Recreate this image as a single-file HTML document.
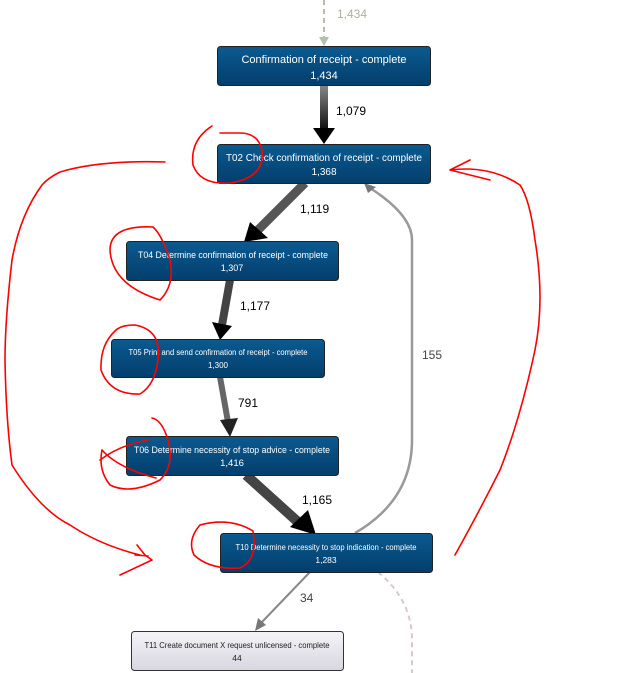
<!DOCTYPE html>
<html><head><meta charset="utf-8"><style>
html,body{margin:0;padding:0;background:#fff;}
svg{display:block;}
text{font-family:"Liberation Sans",sans-serif;}
</style></head><body>
<svg width="630" height="673" viewBox="0 0 630 673" xmlns="http://www.w3.org/2000/svg">
<defs>
<linearGradient id="nb" x1="0" y1="0" x2="0" y2="1"><stop offset="0" stop-color="#0b5a90"/><stop offset="1" stop-color="#033e6c"/></linearGradient>
<linearGradient id="nw" x1="0" y1="0" x2="0" y2="1"><stop offset="0" stop-color="#f4f4f8"/><stop offset="1" stop-color="#d8d6e0"/></linearGradient>
<linearGradient id="ev" x1="0" y1="0" x2="0" y2="1"><stop offset="0" stop-color="#888"/><stop offset="1" stop-color="#111"/></linearGradient>
</defs>
<line x1="324" y1="0" x2="324" y2="38" stroke="#b5c0a8" stroke-width="2" stroke-dasharray="5,4"/>
<polygon points="319,37 329,37 324,46" fill="#b5c0a8"/>
<text x="337" y="18" font-size="12" fill="#a9b39c">1,434</text>
<rect x="320" y="85" width="8" height="44" fill="url(#ev)"/>
<polygon points="313,128 335,128 324,144" fill="#000"/>
<text x="336" y="115" font-size="12">1,079</text>
<line x1="305" y1="183" x2="258" y2="230" stroke="#555" stroke-width="9"/>
<polygon points="244,242 250,222 268,238" fill="#000"/>
<text x="300" y="213" font-size="12">1,119</text>
<line x1="230" y1="280" x2="222" y2="325" stroke="#444" stroke-width="8"/>
<polygon points="212,322 232,326 220,340" fill="#000"/>
<text x="240" y="310" font-size="12">1,177</text>
<line x1="220" y1="377" x2="228" y2="422" stroke="#666" stroke-width="6"/>
<polygon points="220,420 238,418 230,437" fill="#222"/>
<text x="238" y="407" font-size="12">791</text>
<line x1="246" y1="475" x2="298" y2="522" stroke="#444" stroke-width="10"/>
<polygon points="290,527 308,510 316,535" fill="#000"/>
<text x="302" y="504" font-size="12">1,165</text>
<path d="M355,533 Q412,500 412,440 L412,240 Q412,215 370,188" fill="none" stroke="#999" stroke-width="2.5"/>
<polygon points="364,183 376,187 368,193" fill="#777"/>
<text x="422" y="359" font-size="12" fill="#444">155</text>
<line x1="310" y1="572" x2="262" y2="622" stroke="#888" stroke-width="2"/>
<polygon points="255,631 258,618 266,625" fill="#777"/>
<text x="300" y="602" font-size="12" fill="#444">34</text>
<path d="M378,572 Q412,600 412,640 L412,673" fill="none" stroke="#d8c8c8" stroke-width="2" stroke-dasharray="5,4"/>
<g font-size="11" fill="#fff" text-anchor="middle">
<rect x="217.5" y="46.5" width="213" height="39" rx="3" fill="url(#nb)" stroke="#222"/>
<text x="324" y="63">Confirmation of receipt - complete</text><text x="324" y="79">1,434</text>
<rect x="217.5" y="144.5" width="213" height="39" rx="3" fill="url(#nb)" stroke="#222"/>
<text x="324" y="161" font-size="10" textLength="196" lengthAdjust="spacingAndGlyphs">T02 Check confirmation of receipt - complete</text><text x="324" y="175" font-size="10">1,368</text>
<rect x="126.5" y="241.5" width="212" height="39" rx="3" fill="url(#nb)" stroke="#222"/>
<text x="233" y="258" font-size="9" textLength="190" lengthAdjust="spacingAndGlyphs">T04 Determine confirmation of receipt - complete</text><text x="232" y="271" font-size="9">1,307</text>
<rect x="111.5" y="339.5" width="213" height="38" rx="3" fill="url(#nb)" stroke="#222"/>
<text x="218" y="355" font-size="8" textLength="179" lengthAdjust="spacingAndGlyphs">T05 Print and send confirmation of receipt - complete</text><text x="218" y="368" font-size="8">1,300</text>
<rect x="126.5" y="436.5" width="212" height="39" rx="3" fill="url(#nb)" stroke="#222"/>
<text x="232" y="453" font-size="9.5" textLength="196" lengthAdjust="spacingAndGlyphs">T06 Determine necessity of stop advice - complete</text><text x="232" y="466" font-size="9.5">1,416</text>
<rect x="220.5" y="533.5" width="212" height="39" rx="3" fill="url(#nb)" stroke="#222"/>
<text x="326" y="550" font-size="8.5" textLength="181" lengthAdjust="spacingAndGlyphs">T10 Determine necessity to stop indication - complete</text><text x="326" y="563" font-size="8.5">1,283</text>
<rect x="131.5" y="631.5" width="212" height="39" rx="3" fill="url(#nw)" stroke="#333"/>
<text x="237" y="648" font-size="8.5" fill="#222" textLength="185" lengthAdjust="spacingAndGlyphs">T11 Create document X request unlicensed - complete</text><text x="237" y="661" font-size="8.5" fill="#222">44</text>
</g>
<g fill="none" stroke="#f00" stroke-width="1.6" stroke-linecap="round" stroke-linejoin="round">
<path d="M212,126 Q190,140 193,165 Q200,185 230,183 Q265,178 262,150 Q258,133 240,133 L220,133"/>
<path d="M153,227 Q110,225 110,250 Q112,285 160,300 Q175,285 170,260 Q162,235 153,227"/>
<path d="M115,331 Q100,345 101,370 Q110,395 140,394 Q155,385 158,360 Q162,330 135,325 Q120,325 115,331"/>
<path d="M156,478 Q118,468 102,450 Q98,470 110,485 Q130,495 160,480 Q175,465 168,440 Q162,420 152,418 M148,440 Q120,445 100,460"/>
<path d="M253,531 Q230,517 200,525 Q187,540 194,555 Q210,570 240,568 Q258,560 253,531"/>
<path d="M165,162 Q100,160 60,172 Q48,178 42,185 Q20,215 12,260 Q5,320 5,360 Q6,420 12,465 Q40,510 70,525 Q100,545 140,555 M137,545 L145,555 L152,560 L120,575 M135,555 L148,556"/>
<path d="M450,170 L470,160 M450,170 L490,180 M450,170 Q490,165 520,185 Q530,200 535,240 Q545,300 535,350 Q520,420 500,470 Q480,510 455,555"/>
</g>
</svg>
</body></html>
